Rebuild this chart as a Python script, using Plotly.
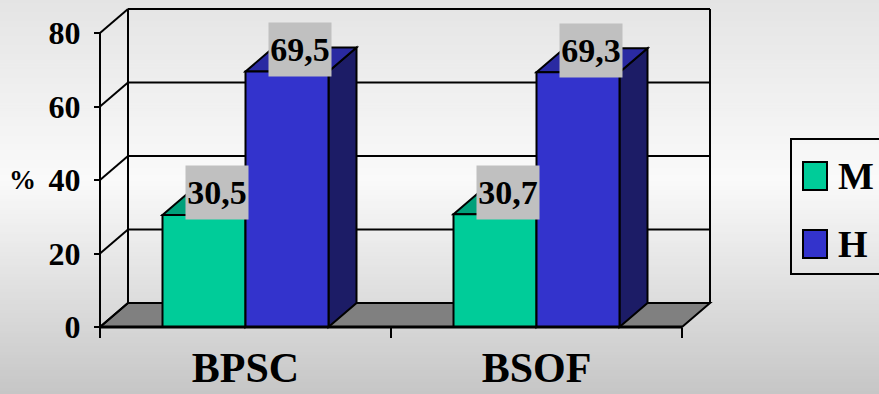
import plotly.graph_objects as go

# data
categories = ['BPSC', 'BSOF']
series_names = ['M', 'H']
values_m = [30.5, 30.7]
values_h = [69.5, 69.3]
labels_m = ['30,5', '30,7']
labels_h = ['69,5', '69,3']
y_ticks = [0, 20, 40, 60, 80]

# colours
front_cols = {'M': '#00cc99', 'H': '#3333cc'}
top_cols = {'M': '#00a07a', 'H': '#2a2aa2'}
side_cols = {'M': '#00664d', 'H': '#1c1c66'}

W, H = 879, 394
FONT = 'Liberation Serif'

# pixel layout of the front plane (value axis 0..80, 2 categories)
x_front_px = 100          # left edge of front plane
cat_px = 291              # pixels per category
y0_px, y80_px = 327, 33   # pixel rows of value 0 and 80
ppu = (y0_px - y80_px) / 80.0

xr = [-0.5 - x_front_px / cat_px, -0.5 + (W - x_front_px) / cat_px]
yr = [-(H - y0_px) / ppu, y0_px / ppu]

# 3d depth offset
DX = 28 / cat_px
DY = 24 / ppu

bar_w = 83 / cat_px
x_pos = [0, 1]


def px(x):
    return x / W


def py(y):
    return 1 - y / H


def poly(pts):
    return 'M ' + ' L '.join(f'{a},{b}' for a, b in pts) + ' Z'


shapes = []

# background gradient (paper coords)
stops = [(0, 228), (180, 250), (394, 198)]
n_strips = 131
for i in range(n_strips):
    ya = i * H / n_strips
    yb = (i + 1) * H / n_strips + 0.6
    yc = (ya + yb) / 2
    for (p0, g0), (p1, g1) in zip(stops[:-1], stops[1:]):
        if p0 <= yc <= p1:
            g = int(round(g0 + (g1 - g0) * (yc - p0) / (p1 - p0)))
    shapes.append(dict(type='rect', xref='paper', yref='paper', layer='below',
                       x0=0, x1=1, y0=py(yb), y1=py(ya),
                       fillcolor=f'rgb({g},{g},{g})', line=dict(width=0)))

LK = dict(color='black', width=2)

# floor
shapes.append(dict(type='path', xref='x', yref='y', layer='below',
                   path=poly([(-0.5, 0), (1.5, 0), (1.5 + DX, DY), (-0.5 + DX, DY)]),
                   fillcolor='#808080', line=LK))

# back wall gridlines + side wall diagonals
for v in y_ticks[1:]:
    shapes.append(dict(type='line', xref='x', yref='y', layer='below',
                       x0=-0.5 + DX, x1=1.5 + DX, y0=v + DY, y1=v + DY, line=LK))
for v in y_ticks:
    shapes.append(dict(type='line', xref='x', yref='y', layer='below',
                       x0=-0.5, x1=-0.5 + DX, y0=v, y1=v + DY, line=LK))
for xe in [-0.5 + DX, 1.5 + DX]:
    shapes.append(dict(type='line', xref='x', yref='y', layer='below',
                       x0=xe, x1=xe, y0=DY, y1=80 + DY, line=LK))
# front value axis line
shapes.append(dict(type='line', xref='x', yref='y', layer='below',
                   x0=-0.5, x1=-0.5, y0=0, y1=80, line=LK))

# bar tops and sides
for name, vals, off in [('M', values_m, -bar_w), ('H', values_h, 0.0)]:
    for xc, v in zip(x_pos, vals):
        x0 = xc + off
        x1 = x0 + bar_w
        shapes.append(dict(type='path', xref='x', yref='y', layer='below',
                           path=poly([(x1, 0), (x1 + DX, DY), (x1 + DX, v + DY), (x1, v)]),
                           fillcolor=side_cols[name], line=LK))
        shapes.append(dict(type='path', xref='x', yref='y', layer='below',
                           path=poly([(x0, v), (x1, v), (x1 + DX, v + DY), (x0 + DX, v + DY)]),
                           fillcolor=top_cols[name], line=LK))

# front floor edge (drawn over the bars)
shapes.append(dict(type='line', xref='x', yref='y', layer='above',
                   x0=-0.5, x1=1.5, y0=0, y1=0, line=dict(color='black', width=3)))

# legend box
shapes.append(dict(type='rect', xref='paper', yref='paper',
                   x0=px(791), x1=px(895), y0=py(274), y1=py(139),
                   line=LK, fillcolor='rgba(0,0,0,0)'))
for name, yc in [('M', 176), ('H', 244)]:
    shapes.append(dict(type='rect', xref='paper', yref='paper',
                       x0=px(803), x1=px(827), y0=py(yc + 14), y1=py(yc - 14),
                       line=LK, fillcolor=front_cols[name]))

fig = go.Figure()
fig.add_trace(go.Bar(x=x_pos, y=values_m, name='M', width=bar_w, offset=-bar_w,
                     marker=dict(color=front_cols['M'], line=dict(color='black', width=2)),
                     showlegend=False, hoverinfo='skip'))
fig.add_trace(go.Bar(x=x_pos, y=values_h, name='H', width=bar_w, offset=0,
                     marker=dict(color=front_cols['H'], line=dict(color='black', width=2)),
                     showlegend=False, hoverinfo='skip'))

annotations = []
for name, vals, labs, off in [('M', values_m, labels_m, -bar_w / 2), ('H', values_h, labels_h, bar_w / 2)]:
    for xc, v, t in zip(x_pos, vals, labs):
        annotations.append(dict(x=xc + off, y=v, xref='x', yref='y', text=f'<b>{t}</b>',
                                showarrow=False, xshift=13, yshift=22,
                                width=60, height=51, bgcolor='#c0c0c0',
                                font=dict(family=FONT, size=34, color='black')))
annotations.append(dict(x=px(38), y=py(180), xref='paper', yref='paper', text='<b>%</b>',
                        showarrow=False, xanchor='right', yanchor='middle',
                        font=dict(family=FONT, size=27, color='black')))
for name, yc in [('M', 176), ('H', 244)]:
    annotations.append(dict(x=px(836), y=py(yc), xref='paper', yref='paper', text=f'<b>{name}</b>',
                            showarrow=False, xanchor='left', yanchor='middle',
                            font=dict(family=FONT, size=38, color='black')))

fig.update_layout(
    width=W, height=H,
    margin=dict(l=0, r=0, t=0, b=0),
    template='none',
    barmode='overlay',
    paper_bgcolor='#eeeeee',
    plot_bgcolor='rgba(0,0,0,0)',
    shapes=shapes,
    annotations=annotations,
    showlegend=False,
    xaxis=dict(range=xr, anchor='free', position=(0 - yr[0]) / (yr[1] - yr[0]),
               tickvals=x_pos, ticktext=[f'<b>{c}</b>' for c in categories],
               ticks='', showgrid=False, zeroline=False, showline=False,
               ticklabelstandoff=12,
               tickfont=dict(family=FONT, size=42, color='black'),
               minor=dict(tickvals=[-0.5, 0.5, 1.5], ticks='outside', ticklen=10,
                          tickwidth=2, tickcolor='black', showgrid=False),
               fixedrange=True, automargin=False),
    yaxis=dict(range=yr, anchor='free', position=px(x_front_px),
               tickvals=y_ticks, ticktext=[f'<b>{v}</b>' for v in y_ticks],
               ticks='outside', ticklen=6, tickwidth=2, tickcolor='black',
               showgrid=False, zeroline=False, showline=False, ticklabelstandoff=7,
               tickfont=dict(family=FONT, size=32, color='black'),
               fixedrange=True, automargin=False),
)

fig.write_html("out.html", config={'displayModeBar': False},
               post_script="document.body.style.margin='0';document.body.style.overflow='hidden';")
